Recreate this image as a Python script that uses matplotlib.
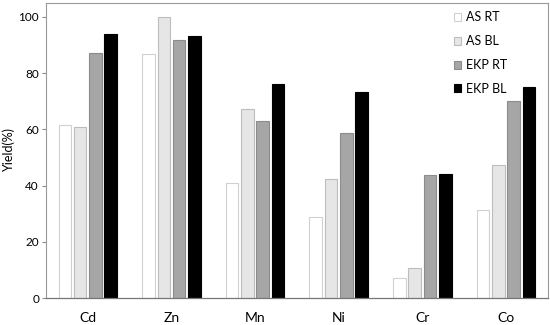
import numpy as np
import matplotlib.pyplot as plt

plt.rcParams['font.family'] = ['Lato', 'DejaVu Sans']

metals = ['Cd', 'Zn', 'Mn', 'Ni', 'Cr', 'Co']
as_rt = [61.6, 86.7, 41.0, 28.9, 7.0, 31.2]
as_bl = [61.0, 100.0, 67.1, 42.2, 10.7, 47.2]
ekp_rt = [87.1, 91.9, 63.0, 58.6, 43.8, 70.1]
ekp_bl = [94.1, 93.1, 76.3, 73.2, 44.0, 75.1]

series = [('AS RT', as_rt, 'white', '#d0d0d0'),
          ('AS BL', as_bl, '#e6e6e6', '#bdbdbd'),
          ('EKP RT', ekp_rt, '#a6a6a6', '#8c8c8c'),
          ('EKP BL', ekp_bl, 'black', 'black')]

fig = plt.figure(figsize=(5.5, 3.25), dpi=100)
ax = fig.add_axes([0.0836, 0.083, 0.9124, 0.908])

x = np.arange(len(metals))
pitch = 0.183
w = 0.15
for i, (name, vals, fc, ec) in enumerate(series):
    ax.bar(x + (i - 1.5) * pitch, vals, w, color=fc, edgecolor=ec,
           linewidth=0.8, label=name)

ax.set_xlim(-0.5, 5.5)
ax.set_ylim(0, 105)
ax.set_yticks([0, 20, 40, 60, 80, 100])
ax.set_xticks(x)
ax.set_xticklabels(metals, fontsize=10)
ax.tick_params(axis='y', labelsize=8.5, length=3, color='#888888', pad=2)
ax.tick_params(axis='x', length=0, pad=10)
ax.set_ylabel('Yield(%)', fontsize=9)
ax.yaxis.set_label_coords(-0.062, 0.5)

for s in ['top', 'right', 'left']:
    ax.spines[s].set_color('#999999')
    ax.spines[s].set_linewidth(0.8)
ax.spines['bottom'].set_color('#777777')
ax.spines['bottom'].set_linewidth(0.9)

leg = ax.legend(loc='upper left', bbox_to_anchor=(0.79, 1.01), frameon=False,
                fontsize=9, labelspacing=0.95, handlelength=0.6,
                handleheight=0.6, handletextpad=0.4)

fig.savefig('out.png', dpi=100)
